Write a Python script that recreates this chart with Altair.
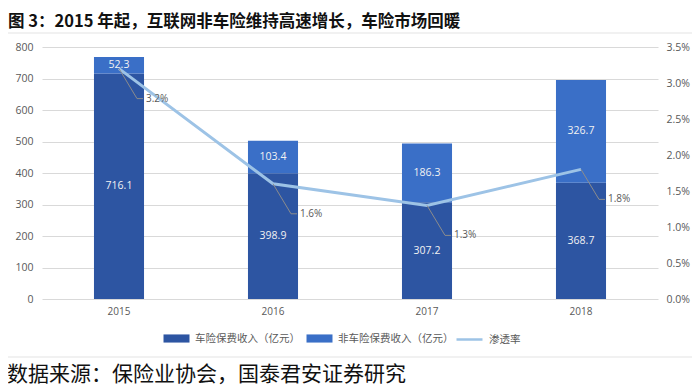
import altair as alt
import pandas as pd

years = ["2015", "2016", "2017", "2018"]
car = [716.1, 398.9, 307.2, 368.7]
noncar = [52.3, 103.4, 186.3, 326.7]
rate = [0.032, 0.016, 0.013, 0.018]
series = ["车险保费收入（亿元）", "非车险保费收入（亿元）", "渗透率"]
left_ticks = [0, 100, 200, 300, 400, 500, 600, 700, 800]
right_ticks = [0, 0.005, 0.01, 0.015, 0.02, 0.025, 0.03, 0.035]
title_text = "图 3：2015 年起，互联网非车险维持高速增长，车险市场回暖"
source_text = "数据来源：保险业协会，国泰君安证券研究"

DARK = "#2D55A2"
MID = "#3A6FC7"
LINE = "#9DC3E6"
GRAY = "#595959"
FONT = "Open Sans"
CJK = "Noto Sans CJK SC"

bars_df = pd.DataFrame({
    "year": years * 2,
    "series": [series[0]] * 4 + [series[1]] * 4,
    "value": car + noncar,
    "order": [0] * 4 + [1] * 4,
})
rate_df = pd.DataFrame({"year": years, "rate": rate, "series": [series[2]] * 4})

x_enc = alt.X(
    "year:N",
    scale=alt.Scale(paddingInner=0.675, paddingOuter=0.3375),
    axis=alt.Axis(title=None, labelAngle=0, domain=False, ticks=False, grid=False,
                  labelPadding=7, labelFont=FONT, labelFontSize=10, labelColor=GRAY),
)

left_axis = alt.Axis(title=None, values=left_ticks, domain=False, ticks=False,
                     labelOverlap=False, labelPadding=9, labelFont=FONT,
                     labelFontSize=10.5, labelColor=GRAY,
                     gridColor="#D9D9D9", gridWidth=1)
left_scale = alt.Scale(domain=[0, 800], nice=False)

bars = alt.Chart(bars_df).mark_bar().encode(
    x=x_enc,
    y=alt.Y("value:Q", stack="zero", scale=left_scale, axis=left_axis),
    order=alt.Order("order:Q"),
    color=alt.Color(
        "series:N",
        scale=alt.Scale(domain=series[:2], range=[DARK, MID]),
        legend=alt.Legend(
            title=None, orient="none", direction="horizontal", legendX=126, legendY=283,
            symbolType="M-1.6,-0.5H1.6V0.5H-1.6Z", symbolSize=264, symbolStrokeWidth=0,
            labelOffset=10, columnPadding=6, padding=0,
            labelFont=CJK, labelFontSize=10.5, labelColor=GRAY,
        ),
    ),
)

bar_labels = alt.Chart(bars_df).transform_stack(
    stack="value", groupby=["year"], sort=[alt.SortField("order")], as_=["v0", "v1"]
).transform_calculate(mid="(datum.v0 + datum.v1) / 2").mark_text(
    color="#F2F2F2", font=FONT, fontSize=10.5, baseline="middle"
).encode(
    x=x_enc,
    y=alt.Y("mid:Q", axis=left_axis, scale=left_scale),
    text=alt.Text("value:Q", format=".1f"),
)

bar_layer = alt.layer(bars, bar_labels)

y_right = alt.Y(
    "rate:Q",
    scale=alt.Scale(domain=[0, 0.035], nice=False),
    axis=alt.Axis(title=None, orient="right", values=right_ticks, format=".1%",
                  domain=False, ticks=False, grid=False, labelPadding=8,
                  labelOverlap=False,
                  labelFont=FONT, labelFontSize=10.5, labelColor=GRAY),
)

line = alt.Chart(rate_df).mark_line(strokeWidth=3).encode(
    x=x_enc,
    y=y_right,
    stroke=alt.Stroke(
        "series:N",
        scale=alt.Scale(domain=[series[2]], range=[LINE]),
        legend=alt.Legend(
            title=None, orient="none", direction="horizontal", legendX=418, legendY=283,
            symbolType="M-1.6,0H1.6", symbolSize=264, symbolStrokeWidth=2.5,
            labelOffset=10, padding=0,
            labelFont=CJK, labelFontSize=10.5, labelColor=GRAY,
        ),
    ),
)

leader = alt.Chart(rate_df).mark_rule(
    color="#8C8C8C", strokeWidth=1, x2Offset=18, y2Offset=30
).encode(x=x_enc, x2="year:N", y=y_right, y2="rate:Q")

leader_h = alt.Chart(rate_df).mark_rule(
    color="#8C8C8C", strokeWidth=1, xOffset=18, x2Offset=24, yOffset=30, y2Offset=30
).encode(x=x_enc, x2="year:N", y=y_right, y2="rate:Q")

rate_labels = alt.Chart(rate_df).mark_text(
    align="left", baseline="middle", dx=27, dy=30, color=GRAY, font=FONT, fontSize=10
).encode(x=x_enc, y=y_right, text=alt.Text("rate:Q", format=".1%"))

line_layer = alt.layer(line, leader, leader_h, rate_labels)

one = alt.Data(values=[{"t": 1}])
frame = alt.Chart(one).mark_rect(fill="transparent", stroke="#E3E3E3", strokeWidth=1).encode(
    x=alt.value(-35), x2=alt.value(652), y=alt.value(-14), y2=alt.value(310)
)
title = alt.Chart(one).mark_text(
    text=title_text, align="left", baseline="top", font=CJK, fontSize=16.5,
    fontWeight="bold", color="#111111"
).encode(x=alt.value(-34), y=alt.value(-33))
source = alt.Chart(one).mark_text(
    text=source_text, align="left", baseline="middle", font=CJK, fontSize=21,
    color="#111111"
).encode(x=alt.value(-35), y=alt.value(328))

chart = alt.layer(
    frame, bar_layer, line_layer, title, source
).resolve_scale(
    y="independent"
).properties(
    width=616, height=252,
    autosize=alt.AutoSizeParams(type="none"),
    padding={"left": 34, "top": 39, "right": 34, "bottom": 91},
).configure_view(stroke=None)

chart.save("out.html", embed_options={"renderer": "svg", "actions": False})
